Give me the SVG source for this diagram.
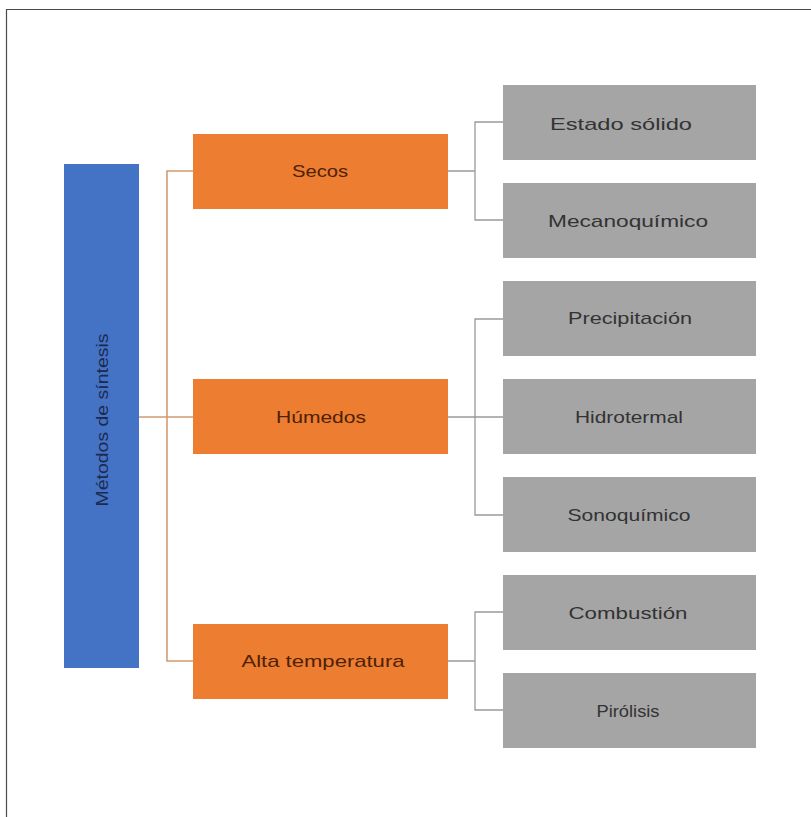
<svg xmlns="http://www.w3.org/2000/svg" width="811" height="817" viewBox="0 0 811 817">
<style>
.frame{fill:none;stroke:#4a4a4a;stroke-width:1.2}
.main{fill:none;stroke:#d49b72;stroke-width:1.6}
.sub{fill:none;stroke:#9a9a9a;stroke-width:1.3}
.blue{fill:#4472C4}
.orange{fill:#ED7D31}
.gray{fill:#A5A5A5}
text{font-family:"Liberation Sans","DejaVu Sans",sans-serif;font-size:17px;text-anchor:middle}
.tb{fill:#1c2a4e}
.to{fill:#4e2206}
.tg{fill:#333333}
</style>
<rect width="811" height="817" fill="#ffffff"/>
<path class="frame" d="M6.5,817 V9.5 H811"/>
<g id="connectors">
<path class="main" d="M139,417 H193 M193,171 H167 V661 H193"/>
<path class="sub" d="M448,171 H475 M503,122 H475 V220 H503"/>
<path class="sub" d="M448,417 H503 M503,319 H475 V515 H503"/>
<path class="sub" d="M448,661 H475 M503,612 H475 V710 H503"/>
</g>
<g id="n-metodos">
<rect class="blue" x="64" y="164" width="75" height="504"/>
<text class="tb" transform="translate(108,420) rotate(-90)" textLength="173" lengthAdjust="spacingAndGlyphs">Métodos de síntesis</text>
</g>
<g id="n-secos">
<rect class="orange" x="193" y="134" width="255" height="75"/>
<text class="to" x="320" y="177" textLength="56" lengthAdjust="spacingAndGlyphs">Secos</text>
</g>
<g id="n-humedos">
<rect class="orange" x="193" y="379" width="255" height="75"/>
<text class="to" x="321" y="423" textLength="90" lengthAdjust="spacingAndGlyphs">Húmedos</text>
</g>
<g id="n-alta">
<rect class="orange" x="193" y="624" width="255" height="75"/>
<text class="to" x="323" y="667" textLength="163" lengthAdjust="spacingAndGlyphs">Alta temperatura</text>
</g>
<g id="n-estado">
<rect class="gray" x="503" y="85" width="253" height="75"/>
<text class="tg" x="621" y="130" textLength="142" lengthAdjust="spacingAndGlyphs">Estado sólido</text>
</g>
<g id="n-mecano">
<rect class="gray" x="503" y="183" width="253" height="75"/>
<text class="tg" x="628" y="227" textLength="160" lengthAdjust="spacingAndGlyphs">Mecanoquímico</text>
</g>
<g id="n-precip">
<rect class="gray" x="503" y="281" width="253" height="75"/>
<text class="tg" x="630" y="324" textLength="124" lengthAdjust="spacingAndGlyphs">Precipitación</text>
</g>
<g id="n-hidro">
<rect class="gray" x="503" y="379" width="253" height="75"/>
<text class="tg" x="629" y="423" textLength="108" lengthAdjust="spacingAndGlyphs">Hidrotermal</text>
</g>
<g id="n-sono">
<rect class="gray" x="503" y="477" width="253" height="75"/>
<text class="tg" x="629" y="521" textLength="123" lengthAdjust="spacingAndGlyphs">Sonoquímico</text>
</g>
<g id="n-comb">
<rect class="gray" x="503" y="575" width="253" height="75"/>
<text class="tg" x="628" y="619" textLength="119" lengthAdjust="spacingAndGlyphs">Combustión</text>
</g>
<g id="n-piro">
<rect class="gray" x="503" y="673" width="253" height="75"/>
<text class="tg" x="628" y="717" textLength="63" lengthAdjust="spacingAndGlyphs">Pirólisis</text>
</g>
</svg>
